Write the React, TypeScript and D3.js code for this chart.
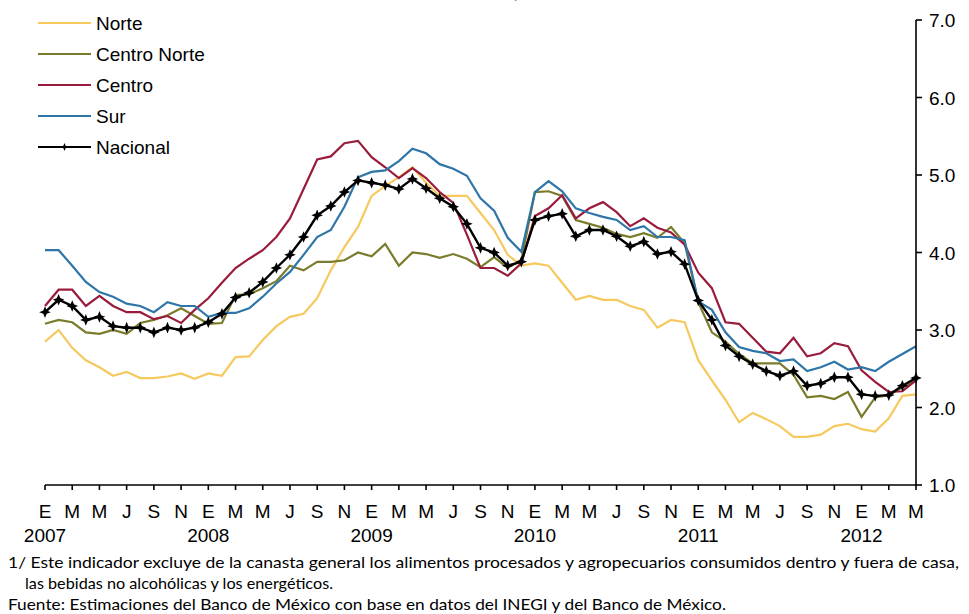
import React from "react";
import * as d3 from "d3";

const monthLetters = ["E", "M", "M", "J", "S", "N"];
const years = ["2007", "2008", "2009", "2010", "2011", "2012"];
const yTicks = [1, 2, 3, 4, 5, 6, 7];
const nMonths = 65; // Jan 2007 .. May 2012

const norte = [
  2.85, 3.0, 2.77, 2.61, 2.52, 2.41, 2.46, 2.38, 2.38, 2.4, 2.44, 2.37,
  2.44, 2.41, 2.65, 2.66, 2.87, 3.05, 3.17, 3.21, 3.41, 3.77, 4.07, 4.33,
  4.73, 4.86, 4.97, 5.1, 4.9, 4.73, 4.73, 4.73, 4.51, 4.29, 3.97, 3.83,
  3.86, 3.83, 3.61, 3.39, 3.44, 3.39, 3.39, 3.31, 3.26, 3.03, 3.13, 3.1,
  2.61, 2.35, 2.1, 1.81, 1.93, 1.85, 1.76, 1.62, 1.62, 1.65, 1.76, 1.79,
  1.72, 1.69, 1.86, 2.15, 2.17,
];
const centroNorte = [
  3.08, 3.13, 3.1, 2.97, 2.95, 3.0, 2.95, 3.09, 3.13, 3.19, 3.28, 3.18,
  3.08, 3.09, 3.45, 3.46, 3.54, 3.63, 3.83, 3.77, 3.88, 3.88, 3.9, 4.0,
  3.95, 4.11, 3.83, 4.0, 3.98, 3.93, 3.98, 3.92, 3.81, 3.94, 3.8, 3.9,
  4.78, 4.79, 4.73, 4.42, 4.37, 4.32, 4.24, 4.2, 4.25, 4.19, 4.33, 4.12,
  3.36, 2.97, 2.85, 2.69, 2.57, 2.57, 2.57, 2.42, 2.13, 2.15, 2.11, 2.2,
  1.88, 2.13, 2.16, 2.26, 2.35,
];
const centro = [
  3.31, 3.52, 3.52, 3.31, 3.44, 3.31, 3.23, 3.23, 3.14, 3.18, 3.09, 3.26,
  3.41, 3.61, 3.8, 3.92, 4.03, 4.2, 4.44, 4.82, 5.2, 5.24, 5.41, 5.44,
  5.23, 5.1, 4.96, 5.09, 4.96, 4.78, 4.64, 4.23, 3.8, 3.8, 3.7, 3.86,
  4.47, 4.57, 4.74, 4.44, 4.57, 4.65, 4.52, 4.34, 4.44, 4.32, 4.26, 4.1,
  3.74, 3.54, 3.1, 3.08, 2.9, 2.72, 2.7, 2.9, 2.66, 2.7, 2.83, 2.79,
  2.48, 2.33, 2.2, 2.21, 2.35,
];
const sur = [
  4.03, 4.03, 3.83, 3.62, 3.49, 3.43, 3.34, 3.31, 3.23, 3.36, 3.31, 3.31,
  3.17, 3.22, 3.22, 3.28, 3.43, 3.6, 3.75, 3.97, 4.2, 4.29, 4.59, 4.97,
  5.04, 5.06, 5.18, 5.34, 5.28, 5.14, 5.08, 4.99, 4.7, 4.54, 4.19, 4.01,
  4.78, 4.92, 4.79, 4.57, 4.51, 4.46, 4.42, 4.29, 4.34, 4.2, 4.2, 4.16,
  3.37, 3.26, 2.97, 2.78, 2.73, 2.7, 2.6, 2.62, 2.47, 2.52, 2.59, 2.49,
  2.52, 2.47, 2.59, 2.69, 2.79,
];
const nacional = [
  3.23, 3.39, 3.31, 3.13, 3.17, 3.05, 3.03, 3.03, 2.97, 3.03, 3.0, 3.03,
  3.1, 3.21, 3.42, 3.48, 3.62, 3.8, 3.97, 4.2, 4.48, 4.6, 4.78, 4.93,
  4.9, 4.87, 4.82, 4.95, 4.83, 4.7, 4.59, 4.37, 4.06, 4.0, 3.83, 3.88,
  4.42, 4.47, 4.5, 4.21, 4.29, 4.29, 4.21, 4.08, 4.14, 3.98, 4.01, 3.85,
  3.38, 3.13, 2.8, 2.66, 2.56, 2.47, 2.41, 2.47, 2.28, 2.31, 2.39, 2.39,
  2.17, 2.15, 2.16, 2.28, 2.38,
];

const seriesNames = ["Norte", "Centro Norte", "Centro", "Sur", "Nacional"];
const seriesData = [norte, centroNorte, centro, sur, nacional];
const seriesColors = ["#F5C95E", "#7B7B2C", "#9A1C3C", "#2E75A8", "#000000"];

const footnote1 =
  "1/ Este indicador excluye de la canasta general los alimentos procesados y agropecuarios consumidos dentro y fuera de casa,";
const footnote2 = "las bebidas no alcohólicas y los energéticos.";
const footnote3 = "Fuente: Estimaciones del Banco de México con base en datos del INEGI y del Banco de México.";
const titleText = "Variación anual en por ciento";

const W = 969;
const H = 614;
const X0 = 45;
const X1 = 916;
const Y_TOP = 20;
const Y_BOT = 485;

const axisFont = "'Liberation Sans', Arial, sans-serif";
const noteFont = "Lato, 'Noto Sans', sans-serif";

function starPath(r: number, ri: number) {
  const pts: string[] = [];
  for (let k = 0; k < 8; k++) {
    const ang = (k * Math.PI) / 4 - Math.PI / 2;
    const rr = k % 2 === 0 ? r : ri;
    pts.push(`${(Math.cos(ang) * rr).toFixed(2)},${(Math.sin(ang) * rr).toFixed(2)}`);
  }
  return "M" + pts.join("L") + "Z";
}

export default function App() {
  const x = d3.scaleLinear().domain([0, nMonths - 1]).range([X0, X1]);
  const y = d3.scaleLinear().domain([1, 7]).range([Y_BOT, Y_TOP]);
  const line = d3
    .line<number>()
    .x((_, i) => x(i))
    .y((v) => y(v));
  const marker = starPath(5.8, 2.4);

  const xTickIdx = d3.range(0, nMonths, 2);

  return (
    <svg
      width={W}
      height={H}
      viewBox={`0 0 ${W} ${H}`}
      style={{ position: "absolute", left: 0, top: 0, display: "block", background: "#fff" }}
    >
      <rect x={0} y={0} width={W} height={H} fill="#fff" />
      {/* title, cropped by the top edge as in the reference */}
      <text
        x={482}
        y={-2}
        textAnchor="middle"
        fontFamily={noteFont}
        fontSize={18}
        fill="#9C8A62"
        textLength={212}
        lengthAdjust="spacingAndGlyphs"
      >
        {titleText}
      </text>

      {/* series */}
      {seriesData.map((d, si) => (
        <path
          key={seriesNames[si]}
          d={line(d) || ""}
          fill="none"
          stroke={seriesColors[si]}
          strokeWidth={si === 4 ? 2.4 : 2.2}
          strokeLinejoin="miter"
        />
      ))}
      {nacional.map((v, i) => (
        <path key={"m" + i} d={marker} transform={`translate(${x(i)},${y(v)})`} fill="#000" />
      ))}

      {/* x axis */}
      <line x1={X0} x2={X1} y1={Y_BOT} y2={Y_BOT} stroke="#000" strokeWidth={1.6} />
      {xTickIdx.map((i) => (
        <g key={"xt" + i}>
          <line x1={x(i)} x2={x(i)} y1={Y_BOT} y2={Y_BOT + 5} stroke="#000" strokeWidth={1.6} />
          <text
            x={x(i)}
            y={518}
            textAnchor="middle"
            fontFamily={axisFont}
            fontSize={19}
            fill="#000"
          >
            {monthLetters[(i / 2) % 6]}
          </text>
        </g>
      ))}
      {years.map((yr, k) => (
        <text
          key={yr}
          x={x(k * 12)}
          y={542}
          textAnchor="middle"
          fontFamily={axisFont}
          fontSize={19}
          fill="#000"
        >
          {yr}
        </text>
      ))}

      {/* y axis (right) */}
      <line x1={X1} x2={X1} y1={Y_TOP} y2={Y_BOT} stroke="#000" strokeWidth={1.6} />
      {yTicks.map((t) => (
        <g key={"yt" + t}>
          <line x1={X1} x2={X1 + 6} y1={y(t)} y2={y(t)} stroke="#000" strokeWidth={1.6} />
          <text
            x={929}
            y={y(t) + 7}
            fontFamily={axisFont}
            fontSize={19}
            fill="#000"
          >
            {t.toFixed(1)}
          </text>
        </g>
      ))}

      {/* legend */}
      {seriesNames.map((name, si) => {
        const ly = 23 + si * 31;
        return (
          <g key={"lg" + name}>
            <line x1={38} x2={91} y1={ly} y2={ly} stroke={seriesColors[si]} strokeWidth={2.2} />
            {si === 4 && (
              <path d={starPath(4, 1.6)} transform={`translate(64.5,${ly})`} fill="#000" />
            )}
            <text x={96} y={ly + 7} fontFamily={axisFont} fontSize={19} fill="#000">
              {name}
            </text>
          </g>
        );
      })}

      {/* footnotes */}
      <text x={8} y={568} fontFamily={noteFont} fontSize={16} fill="#000" textLength={951} lengthAdjust="spacingAndGlyphs">
        {footnote1}
      </text>
      <text x={25} y={589} fontFamily={noteFont} fontSize={16} fill="#000" textLength={308} lengthAdjust="spacingAndGlyphs">
        {footnote2}
      </text>
      <text x={8} y={610} fontFamily={noteFont} fontSize={16} fill="#000" textLength={718} lengthAdjust="spacingAndGlyphs">
        {footnote3}
      </text>
    </svg>
  );
}
